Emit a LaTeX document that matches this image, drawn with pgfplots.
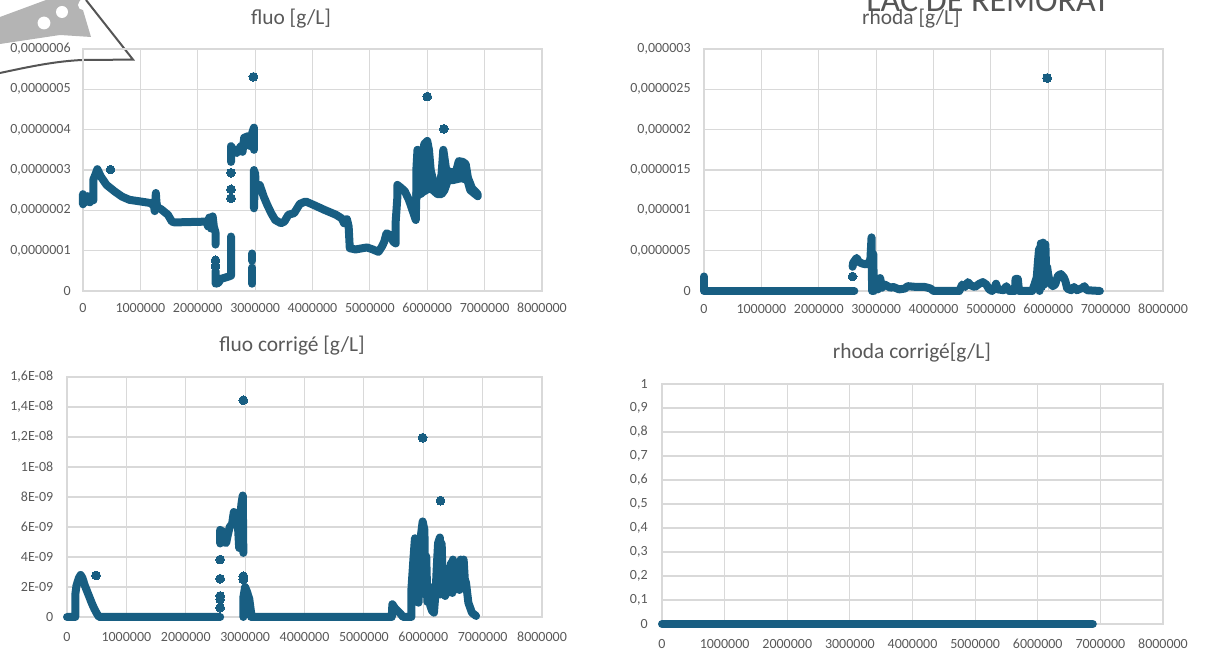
\documentclass[border=0pt]{standalone}
\usepackage{fontspec}
\setmainfont{Carlito}
\usepackage{pgfplots}
\pgfplotsset{compat=1.18}
\definecolor{gridc}{HTML}{D9D9D9}
\definecolor{textc}{HTML}{595959}
\definecolor{ptc}{RGB}{24,94,130}
\definecolor{logoc}{HTML}{B4B4B4}
\definecolor{logod}{HTML}{555555}
\newcommand{\tickfont}{\fontsize{7pt}{8pt}\selectfont}
\newcommand{\titlefont}{\fontsize{10.7pt}{12pt}\selectfont}
\pgfplotsset{
  excel/.style={
    scale only axis, clip=false, anchor=south west,
    axis line style={draw=gridc, line width=0.6pt},
    grid=major, major grid style={draw=gridc, line width=0.6pt},
    major tick length=0pt, tick style={draw=none},
    xmin=0, xmax=8, xtick={0,1,...,8},
    xticklabels={0,1000000,2000000,3000000,4000000,5000000,6000000,7000000,8000000},
    tick label style={font=\tickfont, text=textc, inner sep=0pt},
  },
  band/.style={draw=ptc, line width=4pt, line join=round, line cap=round, mark=none},
  pts/.style={only marks, color=ptc, mark=*, mark size=2.2pt, mark options={solid, fill=ptc, draw=ptc, line width=0pt}},
}
\begin{document}
\begin{tikzpicture}[x=1pt,y=1pt]
\useasboundingbox (0,0) rectangle (602.5,326);
% logo fragment
\fill[logoc] (0,317.5) -- (23,326) -- (40,326) -- (45.5,307.5) -- (30,308.5) -- (0,304) -- cycle;
\fill[white] (22,314.5) circle (3.2) (31,320) circle (3) (41.5,323.5) circle (2.5);
\draw[logod, line width=1pt] (0,289.5) .. controls (14,292.5) and (28,295.5) .. (41.5,296) -- (66.5,296.2) -- (43,326);

% top left
\begin{axis}[excel, at={(41.5pt,180.5pt)}, width=229.5pt, height=121pt,
  ymin=0, ymax=6, ytick={0,1,...,6},
  yticklabels={0,{0,0000001},{0,0000002},{0,0000003},{0,0000004},{0,0000005},{0,0000006}},
  xticklabel shift=6pt, yticklabel shift=6pt]
\addplot[band] coordinates {(0,2.15)(0,2.4)(0.04,2.2)(0.08,2.35)(0.12,2.2)(0.16,2.28)(0.18,2.25)(0.18,2.76)(0.22,2.9)(0.25,3.02)(0.31,2.84)(0.41,2.63)(0.55,2.47)(0.68,2.34)(0.81,2.26)(1.0,2.22)(1.18,2.18)(1.24,2.1)(1.25,1.98)(1.27,2.43)(1.28,2.2)(1.3,2.05)(1.35,2.04)(1.48,1.89)(1.55,1.72)(1.6,1.7)(2.15,1.72)(2.18,1.6)(2.2,1.82)(2.23,1.55)(2.26,1.85)(2.28,1.6)(2.31,1.45)(2.31,1.15)};
\addplot[band] coordinates {(2.31,0.5)(2.31,0.18)(2.36,0.2)(2.4,0.3)(2.45,0.32)(2.52,0.35)(2.58,0.38)(2.58,1.35)};
\addplot[band] coordinates {(2.58,3.2)(2.58,3.59)(2.62,3.5)(2.68,3.42)(2.75,3.59)(2.78,3.45)(2.81,3.8)(2.88,3.84)(2.9,3.6)(2.95,3.92)(2.98,4.05)(2.98,3.5)};
\addplot[band] coordinates {(2.95,0.93)(2.95,0.75)};
\addplot[band] coordinates {(2.95,0.58)(2.95,0.18)};
\addplot[band] coordinates {(2.98,3.0)(2.98,2.05)(3.0,2.93)(3.01,2.6)(3.08,2.63)(3.15,2.34)(3.21,2.14)(3.28,1.93)(3.35,1.76)(3.45,1.68)(3.51,1.72)(3.58,1.89)(3.68,1.93)(3.78,2.16)(3.88,2.22)(4.01,2.14)(4.21,2.01)(4.41,1.89)(4.51,1.8)(4.55,1.68)(4.6,1.78)(4.63,1.6)(4.65,1.06)(4.75,1.03)(4.95,1.08)(5.05,1.03)(5.15,0.97)(5.21,1.1)(5.25,1.22)(5.29,1.43)(5.35,1.39)(5.41,1.22)(5.45,1.18)(5.45,1.72)(5.48,2.34)(5.48,2.63)(5.55,2.55)(5.61,2.47)(5.68,2.26)(5.75,1.97)(5.8,1.76)(5.81,2.43)};
\addplot[band, fill=ptc] coordinates {(5.81,2.3)(5.81,3.0)(5.83,3.5)(5.86,3.45)(5.88,3.0)(5.91,3.3)(5.95,3.65)(6.0,3.72)(6.03,3.5)(6.06,3.0)(6.1,2.75)(6.15,2.6)(6.2,2.55)(6.25,2.9)(6.28,3.5)(6.3,3.3)(6.33,3.0)(6.4,2.95)(6.5,2.95)(6.55,3.22)(6.62,3.2)(6.67,3.15)(6.71,2.8)(6.78,2.55)(6.88,2.4)(6.88,2.35)(6.75,2.5)(6.7,2.75)(6.6,2.8)(6.45,2.75)(6.36,2.75)(6.3,2.5)(6.25,2.4)(6.18,2.4)(6.1,2.5)(6.04,2.55)(5.98,2.5)(5.92,2.45)(5.88,2.4)(5.84,2.4)} -- cycle;
\addplot[pts] coordinates {(0.48,3.01)(2.97,5.31)(6.0,4.82)(6.29,4.02)(2.31,0.76)(2.31,0.62)(2.58,2.3)(2.58,2.52)(2.58,2.93)};
\end{axis}

% top right
\begin{axis}[excel, at={(352pt,180.5pt)}, width=229.5pt, height=121pt,
  ymin=0, ymax=30, ytick={0,5,...,30},
  yticklabels={0,{0,0000005},{0,000001},{0,0000015},{0,000002},{0,0000025},{0,000003}},
  xticklabel shift=6.5pt, yticklabel shift=6.5pt]
\addplot[band] coordinates {(0,1.8)(0,0)(2.62,0)};
\addplot[band] coordinates {(2.59,3.0)(2.6,3.5)(2.66,4.1)(2.7,3.6)(2.76,3.4)(2.82,3.3)(2.86,3.4)(2.9,3.9)(2.92,6.65)(2.93,0)(2.95,4.6)(2.96,0)(3.0,1.0)(3.03,0.2)(3.07,1.6)(3.1,0.4)(3.15,0.8)(3.2,0.6)(3.25,0.4)(3.3,0.5)(3.4,0.2)(3.5,0.3)(3.55,0.6)(3.7,0.5)(3.85,0.5)(3.95,0.3)(4.0,0)(4.45,0)(4.5,0.8)(4.55,0.5)(4.6,1.1)(4.65,0.7)(4.72,0.5)(4.8,0.9)(4.86,1.1)(4.92,0.8)(4.97,0.2)(5.02,0)(5.06,0.3)(5.09,0.9)(5.12,0.2)(5.22,0.1)(5.27,0.6)(5.32,0)(5.42,0)(5.43,1.5)(5.47,1.5)(5.49,0)(5.72,0)(5.76,0.8)(5.8,1.7)(5.82,3.6)(5.84,5.2)(5.85,0)(5.87,5.9)(5.89,0.5)(5.91,6.0)(5.93,0.8)(5.95,5.8)(5.97,1.0)(5.98,3.0)(6.0,2.0)(6.03,1.0)(6.08,0.6)(6.12,0.8)(6.17,1.9)(6.22,2.1)(6.27,1.7)(6.3,1.2)(6.33,0.3)(6.4,0.1)(6.45,0.5)(6.5,0.1)(6.6,0.4)(6.63,0.6)(6.67,0.1)(6.9,0)};
\addplot[pts] coordinates {(5.98,26.4)(2.59,1.8)};
\end{axis}

% bottom left
\begin{axis}[excel, at={(33.5pt,17.5pt)}, width=237.5pt, height=120pt,
  ymin=0, ymax=16, ytick={0,2,...,16},
  yticklabels={0,2E-09,4E-09,6E-09,8E-09,1E-08,{1,2E-08},{1,4E-08},{1,6E-08}},
  xticklabel shift=7.3pt, yticklabel shift=6.7pt]
\addplot[band] coordinates {(0,0)(0.14,0)(0.14,1.5)(0.16,2.1)(0.2,2.6)(0.23,2.8)(0.26,2.6)(0.3,2.1)(0.34,1.7)(0.38,1.3)(0.42,0.9)(0.46,0.55)(0.5,0.25)(0.54,0)(2.58,0)};
\addplot[band] coordinates {(2.58,4.9)(2.58,5.8)(2.62,5.7)(2.65,5.0)(2.68,4.93)(2.71,5.5)(2.74,6.0)(2.78,6.2)(2.81,7.0)(2.84,6.6)(2.87,6.7)(2.88,6.0)(2.9,4.6)(2.92,6.8)(2.94,7.6)(2.96,8.1)(2.97,4.27)};
\addplot[band] coordinates {(2.97,0)(2.97,1.3)(3.0,2.0)(3.03,1.7)(3.07,1.2)(3.1,0.3)(3.1,0)(5.47,0)(5.48,0.85)(5.52,0.6)(5.57,0.4)(5.62,0.2)(5.66,0)(5.8,0)(5.8,1.8)(5.83,3.6)(5.86,5.25)(5.88,2.5)(5.9,3.6)(5.92,0.95)(5.94,4.0)(5.96,5.4)(5.99,6.37)(6.02,5.8)(6.03,1.5)(6.05,4.05)(6.07,1.0)(6.09,2.06)(6.12,0.73)(6.15,0.4)(6.18,0.29)(6.21,1.8)(6.23,3.5)(6.25,4.93)(6.28,5.3)(6.29,1.5)(6.31,4.9)(6.33,2.0)(6.34,3.15)(6.37,1.4)(6.41,2.1)(6.44,3.0)(6.47,3.6)(6.49,1.6)(6.5,3.83)(6.52,1.8)(6.54,2.06)(6.57,2.8)(6.6,2.9)(6.61,1.8)(6.63,3.83)(6.65,2.0)(6.68,3.83)(6.7,2.5)(6.72,2.28)(6.76,0.95)(6.82,0.29)(6.89,0.07)};
\addplot[pts] coordinates {(0.49,2.77)(2.97,14.45)(5.99,11.95)(6.29,7.75)(2.58,0.62)(2.58,1.17)(2.58,1.4)(2.58,2.55)(2.58,3.83)(2.97,2.72)(2.97,2.5)};
\end{axis}

% bottom right
\begin{axis}[excel, at={(331pt,14pt)}, width=250.5pt, height=120pt,
  ymin=0, ymax=1, ytick={0,0.1,...,1.0},
  yticklabels={0,{0,1},{0,2},{0,3},{0,4},{0,5},{0,6},{0,7},{0,8},{0,9},1},
  xticklabel shift=7.5pt, yticklabel shift=7pt]
\addplot[band] coordinates {(0,0)(6.88,0)};
\end{axis}

% titles
\node[anchor=base west, font=\fontsize{17pt}{20pt}\selectfont, text=logod, inner sep=0pt] at (433,320) {LAC DE REMORAT};
\node[anchor=base, font=\titlefont, text=textc, inner sep=0pt] at (145.5,313.5) {fluo [g/L]};
\node[anchor=base, font=\titlefont, text=textc, inner sep=0pt] at (455.5,313.5) {rhoda [g/L]};
\node[anchor=base, font=\titlefont, text=textc, inner sep=0pt] at (146,150) {fluo corrigé [g/L]};
\node[anchor=base, font=\titlefont, text=textc, inner sep=0pt] at (456,146.5) {rhoda corrigé[g/L]};
\end{tikzpicture}
\end{document}
